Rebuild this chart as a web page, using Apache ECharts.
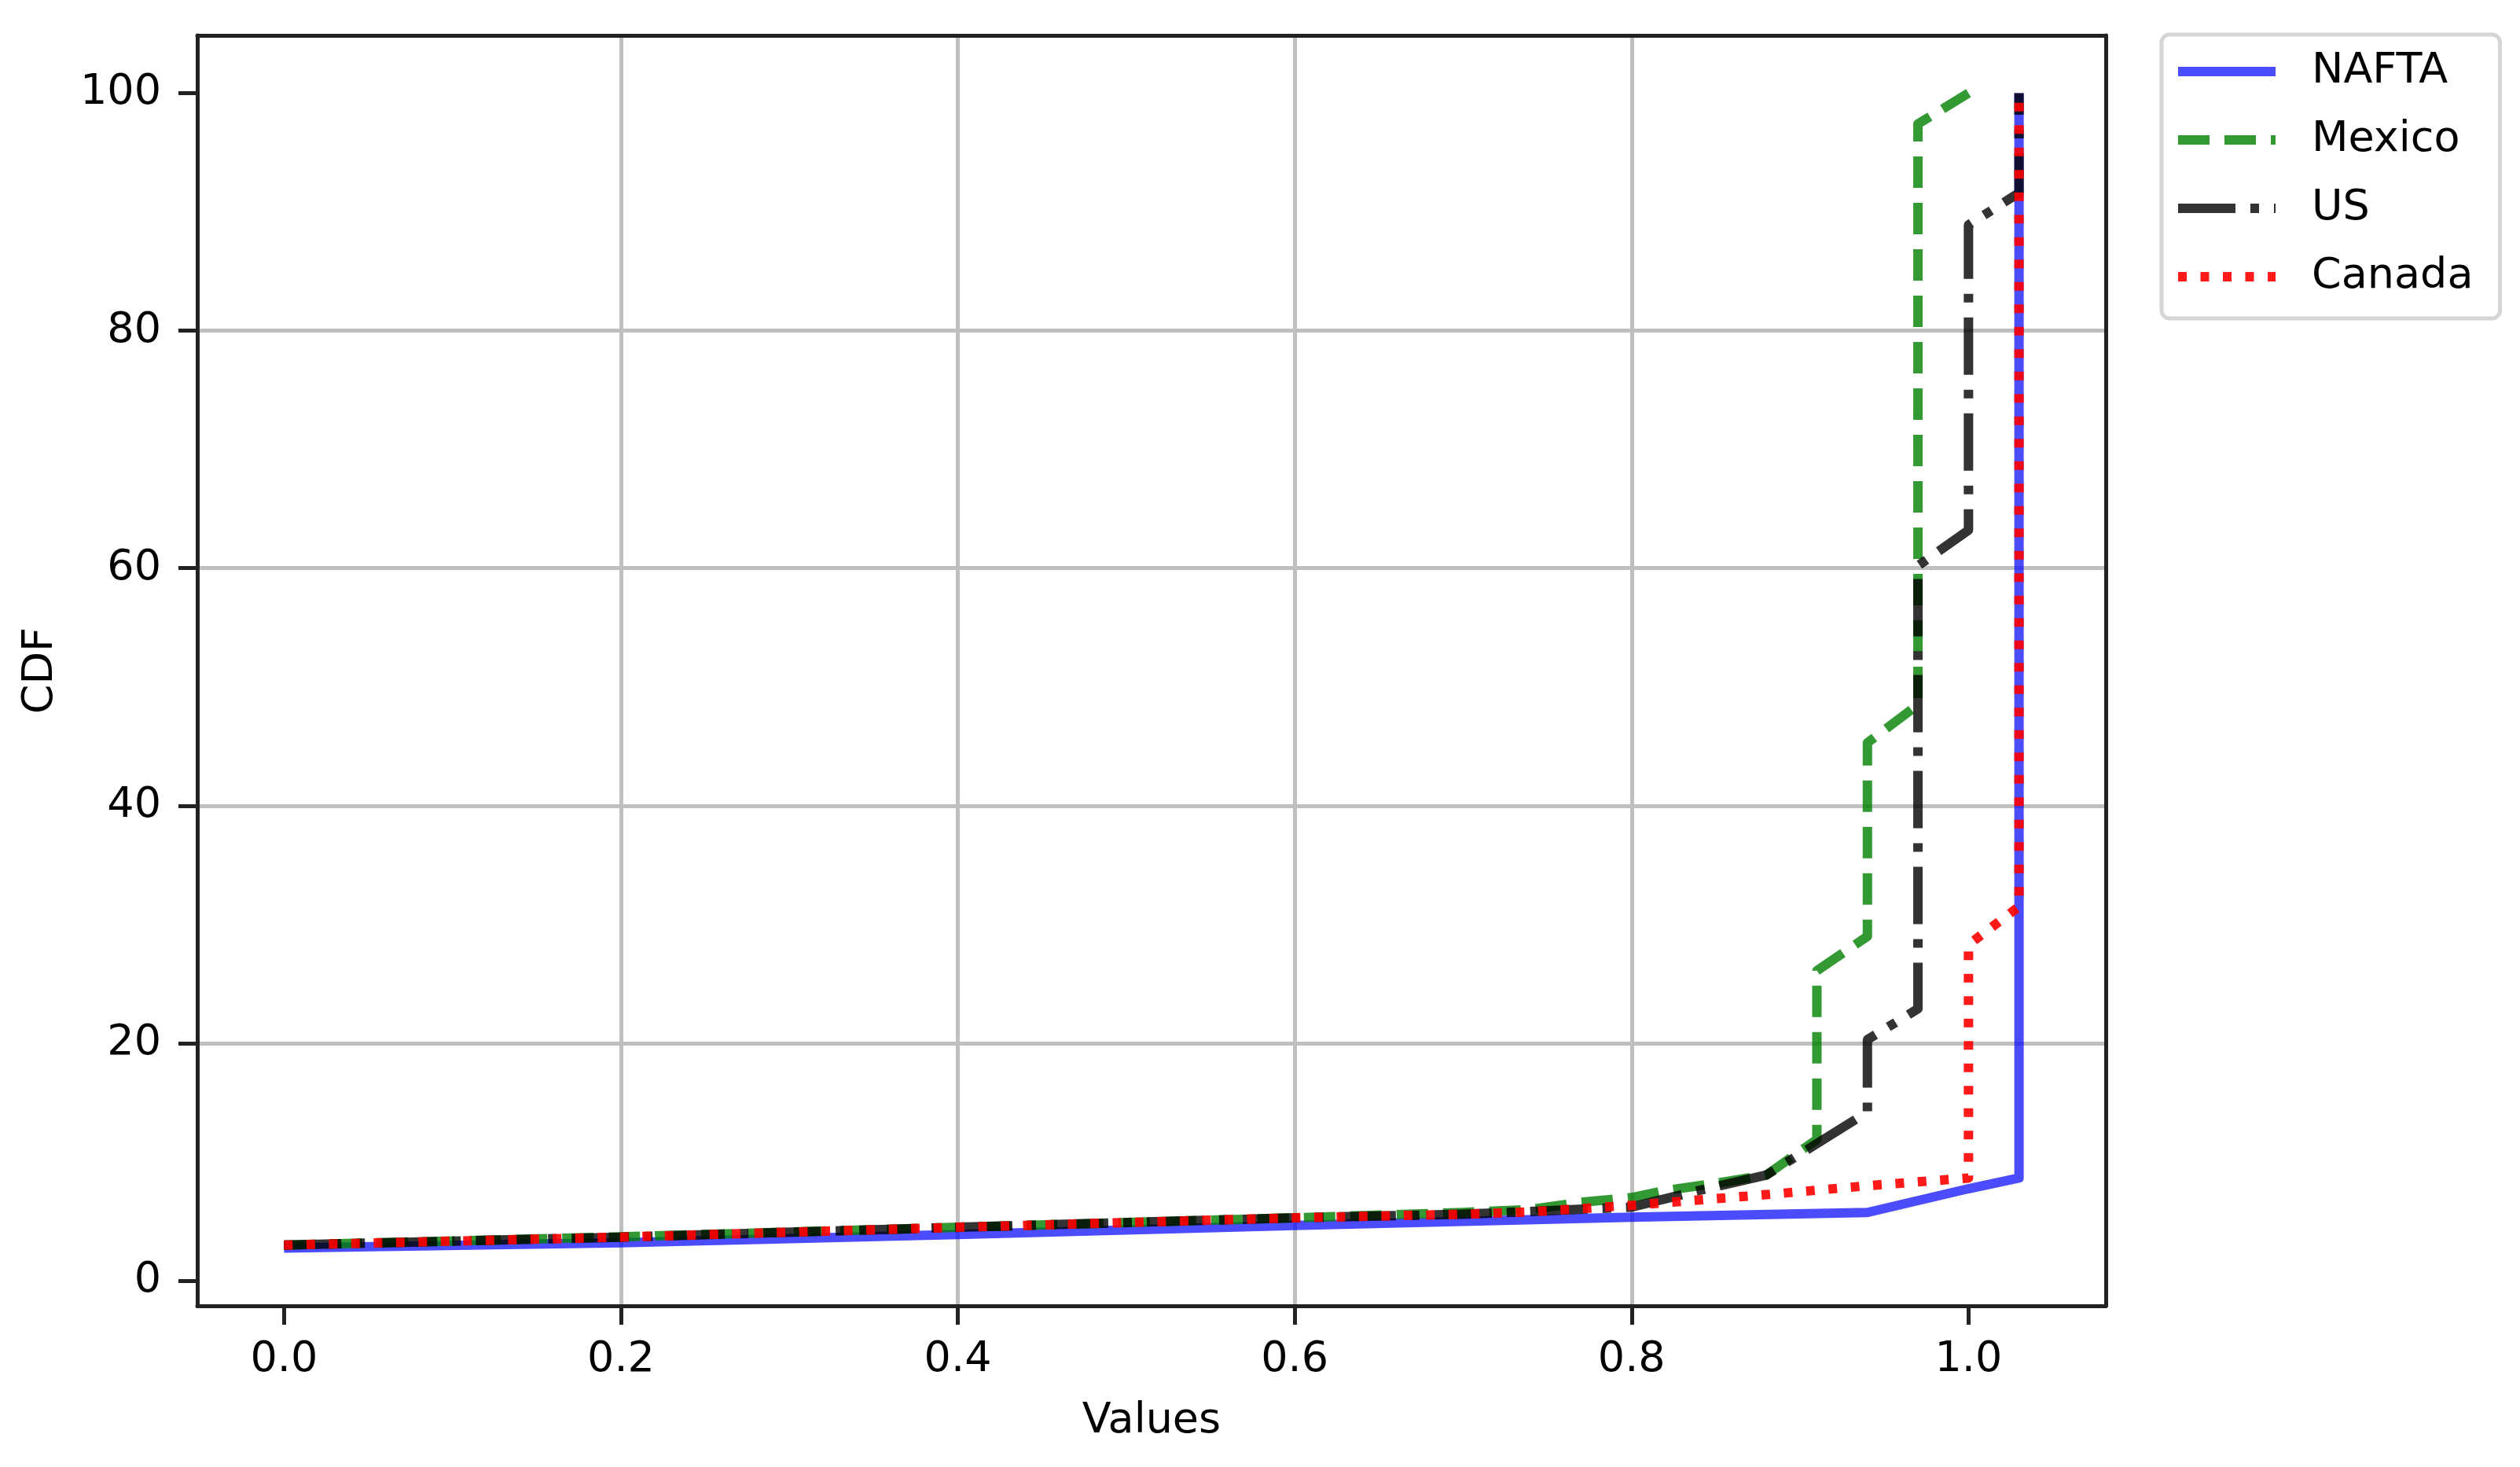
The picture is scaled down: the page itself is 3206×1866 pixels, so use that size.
<!DOCTYPE html>
<html>
<head>
<meta charset="utf-8">
<script src="https://cdn.jsdelivr.net/npm/echarts@6/dist/echarts.min.js"></script>
<style>
  html, body { margin: 0; padding: 0; background: #fff; }
  #chart { width: 3206px; height: 1866px; }
</style>
</head>
<body>
<div id="chart"></div>
<script>
// points, [value, cdf]
const naftaPts = [[0, 2.75], [0.2, 3.2], [0.4, 3.9], [0.6, 4.65], [0.7, 5.0], [0.8, 5.35], [0.94, 5.75],
  [1.0, 7.75], [1.03, 8.65], [1.03, 100]];
const mexicoPts = [[0, 3.0], [0.2, 3.7], [0.4, 4.5], [0.6, 5.3], [0.7, 5.75], [0.74, 6.0], [0.77, 6.6],
  [0.8, 7.0], [0.82, 7.6], [0.85, 8.2], [0.88, 8.9], [0.91, 11.9], [0.91, 26.1], [0.94, 29.0],
  [0.94, 45.3], [0.97, 48.5], [0.97, 97.4], [1.0, 100]];
const usPts = [[0, 3.0], [0.2, 3.67], [0.4, 4.5], [0.6, 5.3], [0.7, 5.6], [0.8, 6.2], [0.84, 7.6],
  [0.88, 8.9], [0.94, 14.2], [0.94, 20.3], [0.97, 22.9], [0.97, 60.2], [1.0, 63.2], [1.0, 88.9],
  [1.03, 91.6], [1.03, 100]];
const canadaPts = [[0, 3.0], [0.2, 3.67], [0.4, 4.5], [0.6, 5.3], [0.7, 5.6], [0.74, 5.8], [0.8, 6.35],
  [0.88, 7.25], [0.94, 8.0], [1.0, 8.65], [1.0, 28.3], [1.03, 31.5], [1.03, 100]];

const seriesNames = ['NAFTA', 'Mexico', 'US', 'Canada'];
const xTicks = [0, 0.2, 0.4, 0.6, 0.8, 1.0];
const yTicks = [0, 20, 40, 60, 80, 100];

// matplotlib style 5% margins around the data
const allPts = naftaPts.concat(mexicoPts, usPts, canadaPts);
const xs = allPts.map(p => p[0]), ys = allPts.map(p => p[1]);
const xLo = Math.min(...xs), xHi = Math.max(...xs);
const yLo = Math.min(...ys), yHi = Math.max(...ys);
const xPad = (xHi - xLo) * 0.05, yPad = (yHi - yLo) * 0.05;

const font = 'DejaVu Sans';
const frame = '#222';

const chart = echarts.init(document.getElementById('chart'));

function lineSeries(name, data, color, dash) {
  return {
    name: name,
    type: 'line',
    data: data,
    symbol: 'none',
    showSymbol: false,
    animation: false,
    lineStyle: { color: color, width: 12, type: dash, join: 'round', cap: 'butt' },
    itemStyle: { color: color }
  };
}

const option = {
  backgroundColor: '#fff',
  animation: false,
  grid: { left: 251, right: 527, top: 45, bottom: 205, outerBoundsMode: 'none' },
  legend: {
    orient: 'vertical',
    left: 2750,
    top: 44,
    data: seriesNames,
    itemWidth: 124,
    itemHeight: 14,
    itemGap: 33,
    padding: [20, 34, 26, 15],
    borderColor: '#d5d5d5',
    borderWidth: 5,
    borderRadius: 10,
    itemStyle: { opacity: 0 },
    lineStyle: { width: 'inherit' },
    textStyle: { fontFamily: font, fontSize: 54, color: '#000', padding: [0, 0, 0, 41] }
  },
  xAxis: [{
    type: 'value',
    min: xLo - xPad,
    max: xHi + xPad,
    minInterval: 0.2,
    maxInterval: 0.2,
    name: 'Values',
    nameLocation: 'middle',
    nameGap: 120,
    nameTextStyle: { fontFamily: font, fontSize: 54, color: '#000' },
    axisLine: { show: true, onZero: false, lineStyle: { color: frame, width: 5 } },
    axisTick: { show: true, length: 24, customValues: xTicks, lineStyle: { color: frame, width: 5 } },
    axisLabel: {
      customValues: xTicks,
      formatter: v => v.toFixed(1),
      fontFamily: font, fontSize: 54, color: '#000', margin: 42
    },
    splitLine: { show: true, showMinLine: false, showMaxLine: false, lineStyle: { color: '#bfbfbf', width: 5 } }
  }, {
    type: 'value',
    position: 'top',
    min: xLo - xPad,
    max: xHi + xPad,
    z: 5,
    axisLine: { show: true, onZero: false, lineStyle: { color: frame, width: 5 } },
    axisTick: { show: false },
    axisLabel: { show: false },
    splitLine: { show: false }
  }],
  yAxis: [{
    type: 'value',
    min: yLo - yPad,
    max: yHi + yPad,
    minInterval: 20,
    maxInterval: 20,
    name: 'CDF',
    nameLocation: 'middle',
    nameGap: 172,
    nameTextStyle: { fontFamily: font, fontSize: 54, color: '#000' },
    axisLine: { show: true, onZero: false, lineStyle: { color: frame, width: 5 } },
    axisTick: { show: true, length: 24, customValues: yTicks, lineStyle: { color: frame, width: 5 } },
    axisLabel: {
      customValues: yTicks,
      formatter: v => String(v),
      fontFamily: font, fontSize: 54, color: '#000', margin: 46
    },
    splitLine: { show: true, showMinLine: false, showMaxLine: false, lineStyle: { color: '#bfbfbf', width: 5 } }
  }, {
    type: 'value',
    position: 'right',
    min: yLo - yPad,
    max: yHi + yPad,
    z: 5,
    axisLine: { show: true, onZero: false, lineStyle: { color: frame, width: 5 } },
    axisTick: { show: false },
    axisLabel: { show: false },
    splitLine: { show: false }
  }],
  series: [
    lineSeries('NAFTA', naftaPts, 'rgba(0,0,255,0.7)', 'solid'),
    lineSeries('Mexico', mexicoPts, 'rgba(0,128,0,0.8)', [40, 19]),
    lineSeries('US', usPts, 'rgba(0,0,0,0.8)', [73, 19, 11, 19]),
    lineSeries('Canada', canadaPts, 'rgba(255,0,0,0.9)', [11, 17.5])
  ]
};

chart.setOption(option);
</script>
</body>
</html>
